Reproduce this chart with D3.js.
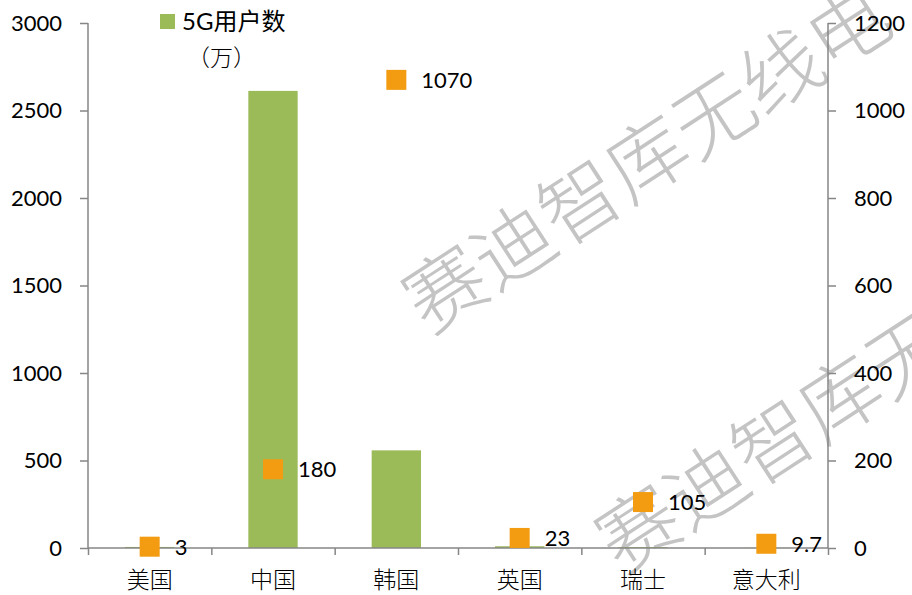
<!DOCTYPE html>
<html>
<head>
<meta charset="utf-8">
<script src="https://cdn.jsdelivr.net/npm/d3@7"></script>
<style>
  body { margin: 0; background: #fff; }
  text { font-family: Lato, "Noto Sans CJK SC", sans-serif; }
  .axis path, .axis line { stroke: #868686; stroke-width: 1.5; }
  .axis text { font-size: 22px; fill: #000; }
  .cat text { font-family: "Noto Sans CJK SC", sans-serif; font-weight: 300; font-size: 23px; }
</style>
</head>
<body>
<script>
// data
const countries = ["美国", "中国", "韩国", "英国", "瑞士", "意大利"];
const users5g = [6, 2612, 558, 10, 5, 1];            // 5G用户数（万）, left axis
const baseStations = [3, 180, 1070, 23, 105, 9.7];     // right axis, square markers
const leftTicks = [0, 500, 1000, 1500, 2000, 2500, 3000];
const rightTicks = [0, 200, 400, 600, 800, 1000, 1200];
const watermark = "赛迪智库无线电";

const w = 912, h = 595;
const plotL = 88, plotR = 828, plotT = 23, plotB = 548;

const svg = d3.select("body").append("svg")
  .attr("width", w).attr("height", h);

const x = d3.scaleBand()
  .domain(countries)
  .range([plotL, plotR])
  .paddingInner(0.6)
  .paddingOuter(0.3);

const xEdges = d3.scaleLinear().domain([0, countries.length]).range([plotL, plotR]);

const yL = d3.scaleLinear().domain([0, 3000]).range([plotB, plotT]);
const yR = d3.scaleLinear().domain([0, 1200]).range([plotB, plotT]);

// watermark (bottom layer)
const wmFs = 80;
[[413, 312], [606, 552]].forEach(function(p) {
  svg.append("text")
    .attr("transform", "translate(" + p[0] + "," + p[1] + ") rotate(-33)")
    .attr("dy", "0.35em")
    .attr("font-family", "'Noto Sans CJK SC'")
    .attr("font-weight", 200)
    .attr("font-size", wmFs)
    .attr("fill", "#c4c4c4")
    .text(watermark);
});

// bars
svg.selectAll("rect.bar")
  .data(users5g)
  .enter()
  .append("rect")
  .attr("class", "bar")
  .attr("x", (d, i) => x(countries[i]))
  .attr("y", d => yL(d))
  .attr("width", x.bandwidth())
  .attr("height", d => plotB - yL(d))
  .attr("fill", "#9bbb59");

// axes
const yAxisL = d3.axisLeft(yL).tickValues(leftTicks).tickFormat(d3.format("d")).tickSize(8).tickPadding(18);
svg.append("g")
  .attr("class", "axis")
  .attr("transform", "translate(" + plotL + ",0)")
  .call(yAxisL)
  .call(g => g.select(".domain").attr("d", "M0," + plotB + "V" + plotT));

const yAxisR = d3.axisRight(yR).tickValues(rightTicks).tickFormat(d3.format("d")).tickSize(8).tickPadding(18);
svg.append("g")
  .attr("class", "axis")
  .attr("transform", "translate(" + plotR + ",0)")
  .call(yAxisR)
  .call(g => g.select(".domain").attr("d", "M0," + plotB + "V" + plotT));

// x axis: line + boundary ticks
svg.append("g")
  .attr("class", "axis")
  .attr("transform", "translate(0," + plotB + ")")
  .call(d3.axisBottom(xEdges).tickValues(d3.range(countries.length + 1)).tickSize(7).tickFormat(""))
  .call(g => g.select(".domain").attr("d", "M" + plotL + ",0H" + plotR));

svg.append("g")
  .attr("class", "axis cat")
  .attr("transform", "translate(0," + plotB + ")")
  .call(d3.axisBottom(x).tickSize(0).tickPadding(24))
  .call(g => g.select(".domain").remove());

// markers
const ms = 20;
svg.selectAll("rect.mk")
  .data(baseStations)
  .enter()
  .append("rect")
  .attr("class", "mk")
  .attr("x", (d, i) => x(countries[i]) + x.bandwidth() / 2 - ms / 2)
  .attr("y", d => yR(d) - ms / 2)
  .attr("width", ms)
  .attr("height", ms)
  .attr("fill", "#f39c12");

svg.selectAll("text.lbl")
  .data(baseStations)
  .enter()
  .append("text")
  .attr("class", "lbl")
  .attr("x", (d, i) => x(countries[i]) + x.bandwidth() / 2 + 25)
  .attr("y", d => yR(d))
  .attr("dy", "0.36em")
  .attr("font-size", 22)
  .text(d => d);

// legend
svg.append("rect")
  .attr("x", 160).attr("y", 14).attr("width", 15).attr("height", 15)
  .attr("fill", "#9bbb59");
svg.append("text")
  .attr("x", 182).attr("y", 30)
  .attr("font-size", 24)
  .text("5G用户数");
svg.append("text")
  .attr("x", 187).attr("y", 66)
  .attr("font-size", 23)
  .attr("font-family", "'Noto Sans CJK SC'")
  .attr("font-weight", 300)
  .text("（万）");
</script>
</body>
</html>
